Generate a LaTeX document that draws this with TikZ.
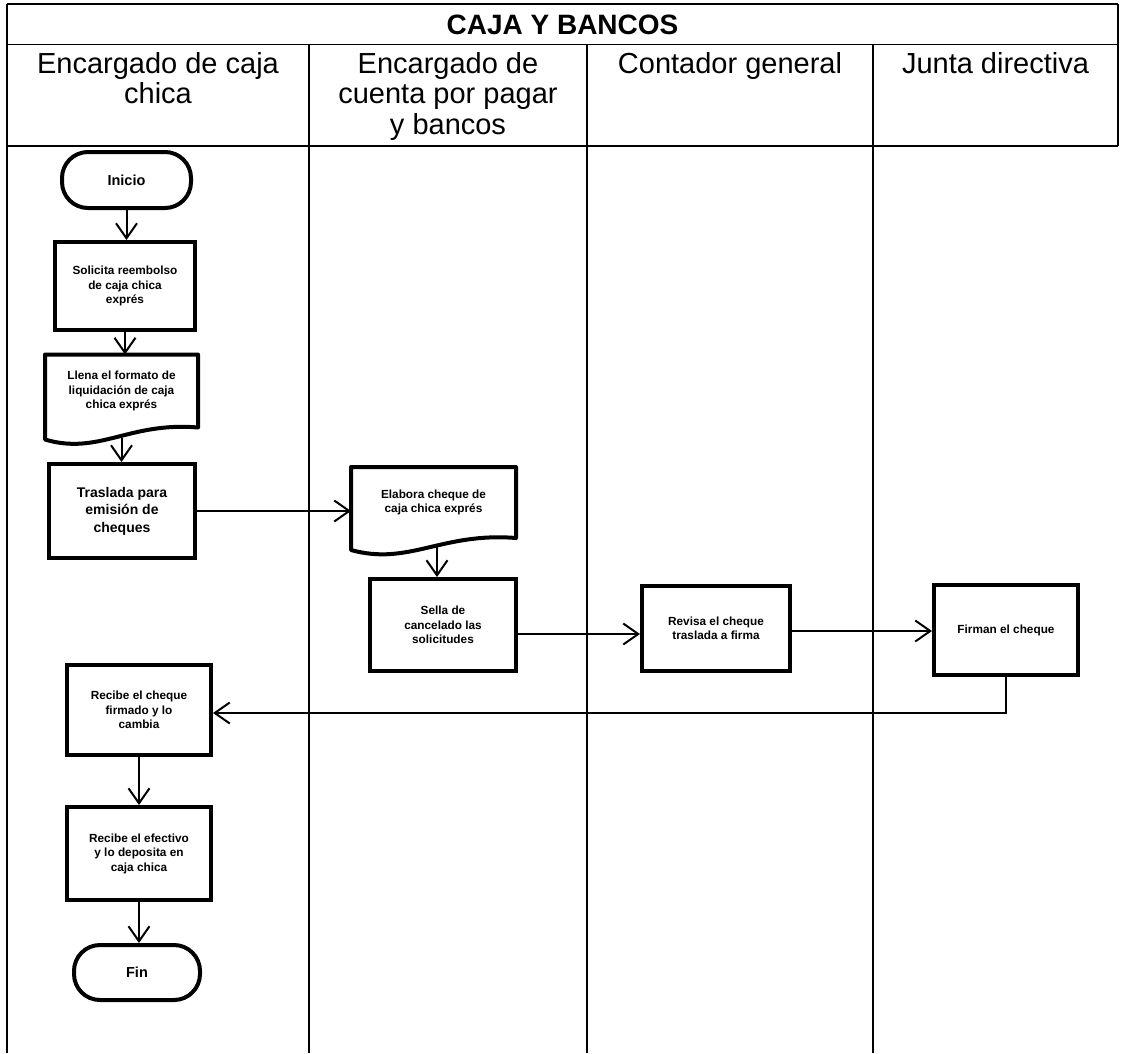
\documentclass[tikz,border=0pt]{standalone}
\usepackage{fontspec}
\setmainfont{Liberation Sans}
\usetikzlibrary{arrows.meta,calc}

\begin{document}
\begin{tikzpicture}[x=1pt,y=-1pt,
  rule/.style={line width=1.6pt},
  proc/.style={draw, line width=4pt, rectangle, inner sep=2pt, align=center,
    font=\fontsize{11.8}{14.5}\selectfont\bfseries},
  bigproc/.style={proc, font=\fontsize{14}{17.5}\selectfont\bfseries},
  term/.style={draw, line width=4pt, rectangle, rounded corners=26pt, inner sep=2pt,
    align=center, font=\fontsize{14.5}{16}\selectfont\bfseries},
  docbox/.style={rectangle, inner sep=2pt, outer sep=0pt, align=center,
    font=\fontsize{11.8}{14.5}\selectfont\bfseries},
  docline/.style={line width=4pt, line join=round},
  flow/.style={line width=2pt, -{Straight Barb[length=15pt,width=21pt]}},
  lanehead/.style={font=\fontsize{29}{30.5}\selectfont, align=center, anchor=north, inner sep=0pt},
]
\useasboundingbox (0,0) rectangle (1121,1053);

% table frame and swimlanes
\draw[rule] (7,4) -- (1118,4);
\draw[rule] (7,44.6) -- (1118,44.6);
\draw[rule] (7,146) -- (1118,146);
\draw[rule] (7,4) -- (7,1053);
\draw[rule] (1118,4) -- (1118,146);
\draw[rule] (309,44.6) -- (309,1053);
\draw[rule] (587,44.6) -- (587,1053);
\draw[rule] (873,44.6) -- (873,1053);

\node[font=\fontsize{28}{30}\selectfont\bfseries] (titulo) at (562.5,24.5) {CAJA Y BANCOS};
\node[lanehead] (h1) at (158,52) {Encargado de caja\\chica};
\node[lanehead] (h2) at (448,52) {Encargado de\\cuenta por pagar\\y bancos};
\node[lanehead] (h3) at (730,52) {Contador general};
\node[lanehead] (h4) at (995.5,52) {Junta directiva};

% process steps
\node[term, minimum width=129pt, minimum height=56pt] (inicio) at (126.5,180) {Inicio};
\node[proc, minimum width=140pt, minimum height=88pt] (solicita) at (125,286)
  {Solicita reembolso\\de caja chica\\exprés};
\node[docbox, minimum width=153pt, minimum height=73pt] (llena) at (121.5,391)
  {Llena el formato de\\liquidación de caja\\chica exprés};
\node[bigproc, minimum width=146pt, minimum height=94pt] (traslada) at (122,511)
  {Traslada para\\emisión de\\cheques};
\node[docbox, minimum width=165pt, minimum height=71pt] (elabora) at (433.5,502.5)
  {Elabora cheque de\\caja chica exprés};
\node[proc, minimum width=146pt, minimum height=92pt] (sella) at (443,625)
  {Sella de\\cancelado las\\solicitudes};
\node[proc, minimum width=148pt, minimum height=85pt] (revisa) at (716,628.5)
  {Revisa el cheque\\traslada a firma};
\node[proc, minimum width=144pt, minimum height=90pt] (firman) at (1006,630)
  {Firman el cheque};
\node[proc, minimum width=144pt, minimum height=90pt] (recibe) at (139,710)
  {Recibe el cheque\\firmado y lo\\cambia};
\node[proc, minimum width=144pt, minimum height=93pt] (deposita) at (139,853.5)
  {Recibe el efectivo\\y lo deposita en\\caja chica};
\node[term, minimum width=126pt, minimum height=55pt] (fin) at (137,972.5) {Fin};

% document outlines with wavy bottom edge
\foreach \d in {llena,elabora}{
  \draw[docline] ($(\d.south west)+(0,12)$) -- (\d.north west) -- (\d.north east) -- (\d.south east)
    .. controls ($(\d.south west)!0.55!(\d.south east)+(0,-6)$)
       and ($(\d.south west)!0.35!(\d.south east)+(0,28)$) .. ($(\d.south west)+(0,12)$) -- cycle;
}
\coordinate (llenaout) at ($(llena.south)+(0,10)$);
\coordinate (elabout) at ($(elabora.south)+(3.5,9)$);

% connectors
\draw[flow] (inicio.south) -- (inicio.south |- solicita.north);
\draw[flow] (solicita.south) -- (solicita.south |- llena.north);
\draw[flow] (llenaout) -- (llenaout |- traslada.north);
\draw[flow] (traslada.east) -- (traslada.east -| elabora.west);
\draw[flow] (elabout) -- (elabout |- sella.north);
\draw[flow] ([yshift=-9pt]sella.east) -- ([yshift=-9pt]sella.east -| revisa.west);
\draw[flow] ([yshift=-2.5pt]revisa.east) -- ([yshift=-2.5pt]revisa.east -| firman.west);
\draw[flow] (firman.south) |- ([yshift=-3pt]recibe.east);
\draw[flow] (recibe.south) -- (recibe.south |- deposita.north);
\draw[flow] (deposita.south) -- (deposita.south |- fin.north);
\end{tikzpicture}
\end{document}
